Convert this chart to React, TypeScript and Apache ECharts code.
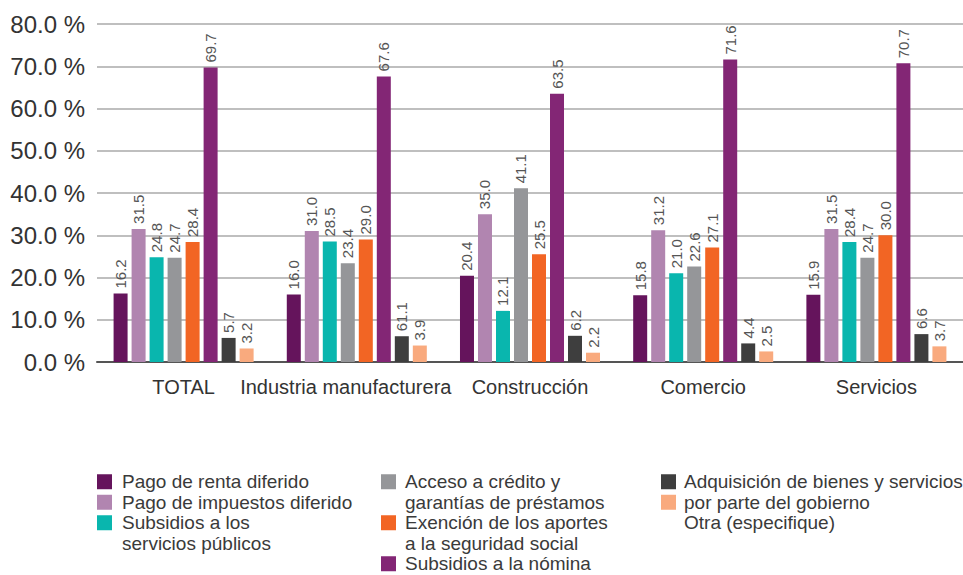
import React, { useEffect, useRef } from "react";
import * as echarts from "echarts";

const categories = ["TOTAL", "Industria manufacturera", "Construcción", "Comercio", "Servicios"];

const seriesNames = [
  "Pago de renta diferido",
  "Pago de impuestos diferido",
  "Subsidios a los servicios públicos",
  "Acceso a crédito y garantías de préstamos",
  "Exención de los aportes a la seguridad social",
  "Subsidios a la nómina",
  "Adquisición de bienes y servicios por parte del gobierno",
  "Otra (especifique)",
];

const legendLabels = [
  "Pago de renta diferido",
  "Pago de impuestos diferido",
  "Subsidios a los\nservicios públicos",
  "Acceso a crédito y\ngarantías de préstamos",
  "Exención de los aportes\na la seguridad social",
  "Subsidios a la nómina",
  "Adquisición de bienes y servicios\npor parte del gobierno",
  "Otra (especifique)",
];

const pagoRenta = [16.2, 16.0, 20.4, 15.8, 15.9];
const pagoImpuestos = [31.5, 31.0, 35.0, 31.2, 31.5];
const subsidiosServicios = [24.8, 28.5, 12.1, 21.0, 28.4];
const accesoCredito = [24.7, 23.4, 41.1, 22.6, 24.7];
const exencionAportes = [28.4, 29.0, 25.5, 27.1, 30.0];
const subsidiosNomina = [69.7, 67.6, 63.5, 71.6, 70.7];
const adquisicion = [5.7, 6.1, 6.2, 4.4, 6.6];
const otra = [3.2, 3.9, 2.2, 2.5, 3.7];

// printed labels that differ from the value (as in the source)
const adquisicionLabels = ["5.7", "61.1", "6.2", "4.4", "6.6"];

const seriesValues = [
  pagoRenta,
  pagoImpuestos,
  subsidiosServicios,
  accesoCredito,
  exencionAportes,
  subsidiosNomina,
  adquisicion,
  otra,
];

const yTicks = [0, 10, 20, 30, 40, 50, 60, 70, 80];

const colors = ["#65145C", "#B185B0", "#09B6AE", "#959699", "#F26524", "#832675", "#3E3E3E", "#F9AA7E"];

// legend layout: column, marker row, text row
const legendLayout = [
  { col: 0, markerRow: 0, textRow: 0 },
  { col: 0, markerRow: 1, textRow: 1 },
  { col: 0, markerRow: 2, textRow: 2 },
  { col: 1, markerRow: 0, textRow: 0 },
  { col: 1, markerRow: 2, textRow: 2 },
  { col: 1, markerRow: 4, textRow: 4 },
  { col: 2, markerRow: 0, textRow: 0 },
  { col: 2, markerRow: 1, textRow: 2 },
];

const FONT = "'Liberation Sans', Arial, Helvetica, sans-serif";

export default function App() {
  const ref = useRef<HTMLDivElement>(null);

  useEffect(() => {
    if (!ref.current) return;
    const chart = echarts.init(ref.current, null, { renderer: "svg" });

    const colMarkerX = [97, 381, 661];
    const colTextX = [122, 405, 684];
    const rowH = 20.5;
    const top0 = 471.5;

    const graphics: any[] = [];
    legendLayout.forEach((l, i) => {
      const mc = top0 + rowH * l.markerRow + rowH / 2;
      graphics.push({
        type: "rect",
        shape: { x: colMarkerX[l.col], y: mc - 7.5, width: 15, height: 15 },
        style: { fill: colors[i] },
      });
      const multi = legendLabels[i].indexOf("\n") >= 0;
      graphics.push({
        type: "text",
        x: colTextX[l.col],
        y: multi ? top0 + rowH * l.textRow : top0 + rowH * l.textRow + rowH / 2,
        style: {
          text: legendLabels[i],
          font: `19px ${FONT}`,
          fill: "#3a3a3a",
          verticalAlign: multi ? "top" : "middle",
          lineHeight: multi ? rowH : 16,
        },
      });
    });

    const series = seriesValues.map((vals, si) => ({
      name: seriesNames[si],
      type: "bar",
      barWidth: 14,
      barGap: "28.6%",
      itemStyle: { color: colors[si] },
      data: vals.map((v, ci) =>
        si === 6 && adquisicionLabels[ci] !== v.toFixed(1)
          ? { value: v, label: { formatter: adquisicionLabels[ci] } }
          : v
      ),
      label: {
        show: true,
        position: "top",
        rotate: 90,
        align: "left",
        verticalAlign: "middle",
        distance: 5,
        color: "#555",
        fontSize: 15,
        fontFamily: FONT,
        formatter: (p: any) => Number(p.value).toFixed(1),
      },
    }));

    chart.setOption({
      animation: false,
      grid: { left: 97, right: 0, top: 24, bottom: 213, containLabel: false },
      legend: { show: false },
      xAxis: {
        type: "category",
        data: categories,
        axisTick: { show: false },
        axisLine: { lineStyle: { color: "#555", width: 2 } },
        axisLabel: {
          color: "#333",
          fontSize: 20,
          fontFamily: FONT,
          margin: 15,
          interval: 0,
          formatter: (v: string, i: number) => (i === 1 ? `{shift|${v}}` : v),
          rich: {
            shift: { fontSize: 20, fontFamily: FONT, color: "#333", padding: [0, 22, 0, 0] },
          },
        },
      },
      yAxis: {
        type: "value",
        min: yTicks[0],
        max: yTicks[yTicks.length - 1],
        interval: 10,
        axisLine: { show: false },
        axisTick: { show: false },
        splitLine: { lineStyle: { color: "#aaa", width: 1.5 } },
        axisLabel: {
          color: "#333",
          fontSize: 24,
          fontFamily: FONT,
          margin: 12,
          formatter: (v: number) => v.toFixed(1) + " %",
        },
      },
      graphic: graphics,
      series,
    });

    return () => chart.dispose();
  }, []);

  return (
    <div
      ref={ref}
      style={{ position: "fixed", left: 0, top: 0, width: 963, height: 575, background: "#fff" }}
    />
  );
}
